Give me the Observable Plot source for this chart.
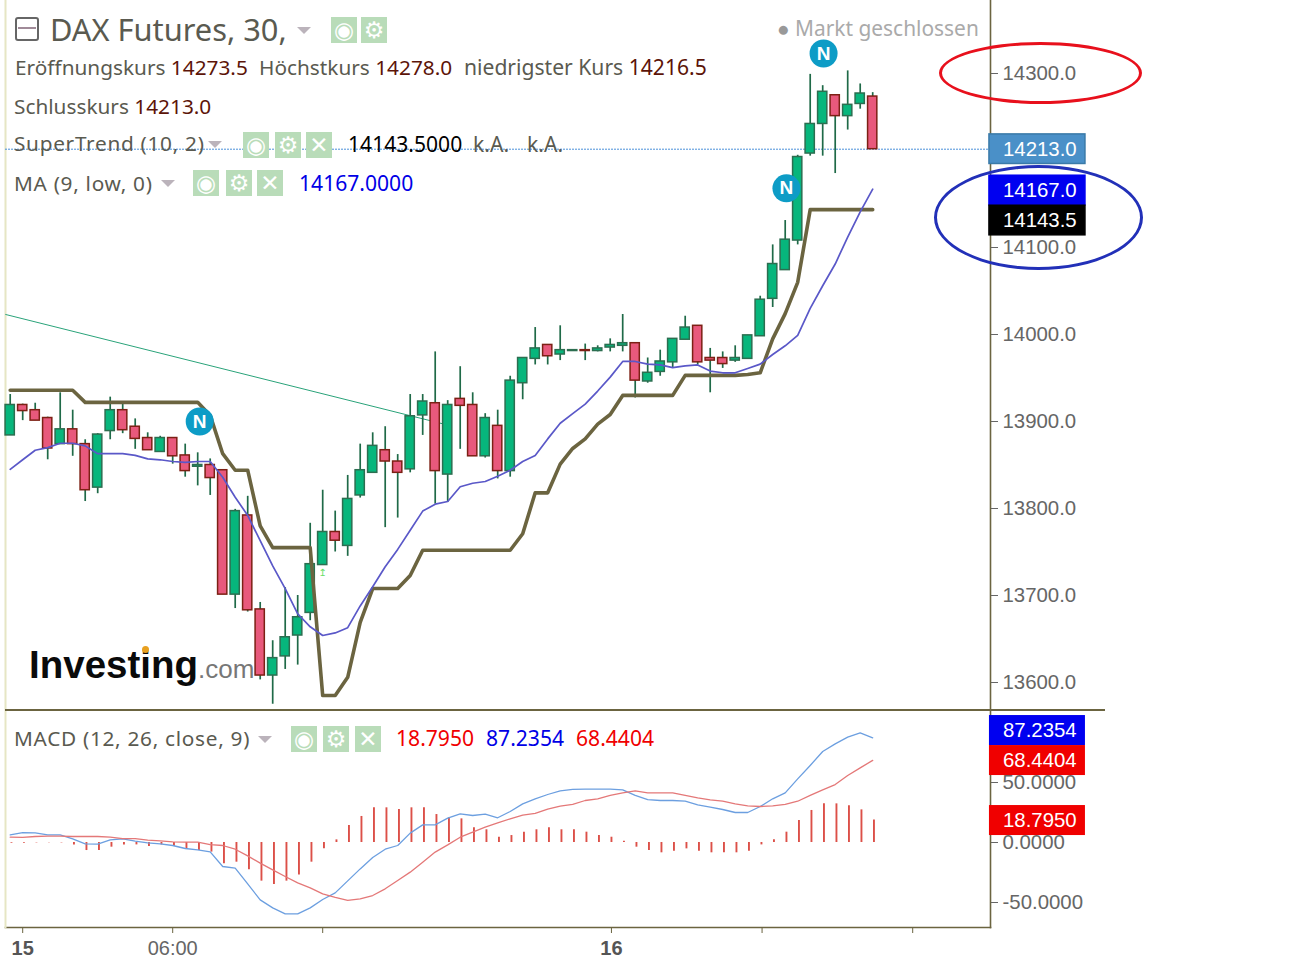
<!DOCTYPE html>
<html lang="de">
<head>
<meta charset="utf-8">
<title>DAX Futures, 30</title>
<script src="https://cdn.jsdelivr.net/npm/d3@7"></script>
<script src="https://cdn.jsdelivr.net/npm/@observablehq/plot@0.6"></script>
<style>
html,body{margin:0;padding:0;background:#fff;overflow:hidden}
#page{position:relative;width:1315px;height:961px;font-family:"Noto Sans",sans-serif}
#charts svg{display:block}
.t{position:absolute;white-space:nowrap;color:#5a5a50;font-size:20.8px;line-height:26px}
.ls{letter-spacing:.7px}
.v{color:#5c1408}
.n{font-size:21.1px}
.ic{position:absolute;width:26px;height:26px;background:#b9dcb9;color:#fff;text-align:center;line-height:26px;font-size:23px;font-family:"DejaVu Sans";overflow:hidden}
.tri{position:absolute;width:0;height:0;border-left:7px solid transparent;border-right:7px solid transparent;border-top:7px solid #bbb3bb}
.ring{position:absolute;box-sizing:border-box;border-radius:50%;background:transparent}
#sep{position:absolute;left:5px;top:709px;width:1100px;height:2px;background:#6b6440}
#logo{position:absolute;left:29px;top:640px;white-space:nowrap;font-family:"Liberation Sans",Arial,sans-serif;color:#0a0a0a;font-weight:bold;font-size:38.5px;letter-spacing:0;line-height:50px}
#logo span{font-weight:normal;color:#777;font-size:26px;letter-spacing:0}
</style>
</head>
<body>
<div id="page">
  <div id="charts"></div>
  <div id="sep"></div>

  <div style="position:absolute;left:15px;top:17px;width:20px;height:20px;border:2px solid #666;border-radius:3px"></div>
  <div style="position:absolute;left:18px;top:27px;width:18px;height:2px;background:#a08a98"></div>
  <div class="t" style="left:50px;top:10px;font-size:30.8px;line-height:38px">DAX Futures, 30,</div>
  <div class="tri" style="left:297px;top:27px"></div>
  <div class="ic" style="left:331px;top:17px">◉</div>
  <div class="ic" style="left:361px;top:17px">⚙</div>
  <div class="t" style="left:777px;top:15px;color:#aaa;font-size:20.9px"><span style="color:#999">●</span> Markt geschlossen</div>

  <div class="t" style="left:15px;top:54px">Eröffnungskurs <span class="v">14273.5</span></div>
  <div class="t" style="left:259px;top:54px">Höchstkurs <span class="v">14278.0</span></div>
  <div class="t n" style="left:464px;top:54px">niedrigster Kurs <span class="v">14216.5</span></div>
  <div class="t" style="left:14px;top:93px">Schlusskurs <span class="v">14213.0</span></div>

  <div class="t ls" style="left:14px;top:130px">SuperTrend (10, 2)</div>
  <div class="tri" style="left:208px;top:141px"></div>
  <div class="ic" style="left:243px;top:132px">◉</div>
  <div class="ic" style="left:275px;top:132px">⚙</div>
  <div class="ic" style="left:306px;top:132px">✕</div>
  <div class="t n" style="left:348px;top:131px;color:#000">14143.5000</div>
  <div class="t n" style="left:473px;top:131px">k.A.</div>
  <div class="t n" style="left:527px;top:131px">k.A.</div>

  <div class="t ls" style="left:14px;top:170px">MA (9, low, 0)</div>
  <div class="tri" style="left:161px;top:180px"></div>
  <div class="ic" style="left:193px;top:170px">◉</div>
  <div class="ic" style="left:226px;top:170px">⚙</div>
  <div class="ic" style="left:257px;top:170px">✕</div>
  <div class="t n" style="left:299px;top:170px;color:#0000e6">14167.0000</div>

  <div class="t ls" style="left:14px;top:725px">MACD (12, 26, close, 9)</div>
  <div class="tri" style="left:258px;top:736px"></div>
  <div class="ic" style="left:291px;top:726px">◉</div>
  <div class="ic" style="left:323px;top:726px">⚙</div>
  <div class="ic" style="left:355px;top:726px">✕</div>
  <div class="t n" style="left:396px;top:725px;color:#f00000">18.7950</div>
  <div class="t n" style="left:486px;top:725px;color:#0000e6">87.2354</div>
  <div class="t n" style="left:576px;top:725px;color:#f00000">68.4404</div>

  <div id="logo">Investing<span>.com</span></div>
  <div style="position:absolute;left:142px;top:646px;width:7px;height:7px;border-radius:50%;background:#e8a020"></div>

  <div class="ring" style="left:939px;top:42px;width:203px;height:62px;border:3px solid #e8101c"></div>
  <div class="ring" style="left:934px;top:165px;width:209px;height:105px;border:3px solid #2230b8"></div>
</div>

<script>
const opens = [13884,13919,13913,13904,13874,13891,13874,13824,13889,13913,13894,13881,13865,13881,13861,13848,13850,13844,13701,13792,13684,13608,13630,13654,13680,13735,13773,13757,13815,13841,13867,13854,13845,13907,13921,13839,13926,13919,13860,13895,13843,13944,13972,13988,13977,13981,13982,13981,13985,13987,13990,13946,13957,13968,13994,14010,13973,13973,13970,13972,13998,14041,14074,14108,14208,14242,14275,14251,14265,14273.5];
const closes = [13919,13912,13901,13869,13891,13874,13821,13885,13913,13890,13880,13867,13881,13860,13843,13850,13835,13701,13797,13683,13608,13628,13652,13675,13736,13773,13763,13811,13844,13872,13854,13841,13906,13923,13843,13919,13918,13860,13904,13843,13947,13973,13984,13975,13982,13982,13981,13984,13988,13990,13947,13956,13969,13995,14008,13968,13970,13966,13973,13999,14040,14081,14109,14204,14242,14279,14251,14264,14277,14213];
const highs = [13931,13920,13921,13905,13933,13913,13879,13886,13928,13921,13903,13887,13883,13881,13874,13864,13857,13844,13799,13814,13692,13648,13709,13700,13783,13821,13797,13838,13874,13887,13894,13862,13931,13931,13980,13924,13963,13933,13909,13913,13952,13973,14008,13988,14010,13982,13989,13987,13995,14023,13990,13973,13982,13995,14021,14010,13984,13980,13987,13999,14044,14103,14131,14206,14299,14286,14275,14303,14288,14278];
const lows = [13884,13901,13901,13856,13874,13860,13808,13817,13879,13886,13868,13867,13865,13851,13836,13826,13815,13701,13685,13681,13603,13575,13615,13620,13671,13735,13750,13745,13812,13841,13778,13789,13841,13884,13805,13807,13868,13860,13858,13834,13836,13925,13965,13965,13970,13981,13970,13980,13980,13980,13927,13944,13952,13962,13994,13965,13933,13961,13968,13972,13998,14031,14074,14103,14205,14205,14185,14235,14259,14213];
const superTrend = [13936,13936,13936,13936,13936,13936,13922,13922,13922,13922,13922,13922,13922,13922,13922,13922,13907,13863,13844,13844,13780,13755,13755,13755,13755,13585,13585,13606,13669,13708,13708,13708,13723,13752,13752,13752,13752,13752,13752,13752,13752,13771,13818,13818,13851,13869,13880,13897,13908,13930,13930,13930,13930,13930,13953,13953,13953,13953,13953,13954,13956,13995,14024,14060,14143.5,14143.5,14143.5,14143.5,14143.5,14143.5];
const movingAverage = [13845,13856,13867,13870,13875,13875,13872,13863,13863,13863,13861,13857,13856,13854,13853,13854,13854,13836,13813,13792,13763,13734,13708,13679,13664,13654,13657,13663,13688,13710,13733,13753,13775,13797,13805,13808,13825,13829,13831,13837,13844,13854,13861,13880,13898,13909,13920,13935,13951,13969,13969,13966,13965,13962,13964,13965,13958,13956,13956,13961,13966,13977,13987,13999,14030,14056,14081,14112,14141,14167];
const macdLine = [6.4,8.3,8.0,6.4,6.4,3.0,-1.1,-1.4,2.2,3.0,1.1,-0.3,-1.1,-2.5,-5.0,-6.1,-7.8,-20,-21.4,-34.5,-47.8,-54.5,-59.5,-59.5,-54.5,-47.5,-42,-32,-22,-12.5,-5.6,-2.5,7.8,14.7,14.7,20.3,23.9,22.5,23.6,20.6,25.8,32.2,36.4,40,43,44.2,44.4,44.4,44.4,43.9,39.2,35.8,35,35,34.4,31.4,29.4,27.5,25,25,30,36.4,41.4,53,64.2,75.8,82.2,87.8,91.4,87.2354];
const signalLine = [4.4,4.2,5,5.3,5.3,5,5,5,4.4,3.3,3.3,1.9,1.4,0.6,0.3,0.3,-1.7,-2.5,-5.6,-11.1,-17.2,-22.8,-28.3,-33.6,-37.8,-42.8,-45.8,-48.3,-47,-44.2,-38.6,-31.7,-24.7,-16.4,-8,-2,4.4,8.6,12.8,16.4,19.7,22.8,24.2,27.8,30.3,31.7,35,36.4,39.2,41.4,43,41.4,41.4,41.4,39.2,37.2,35.6,34.4,32.2,30.6,30,30.6,31.7,34.4,39.2,43.9,48.3,55.8,62.2,68.4404];
const histogram = [-0.6,-0.6,-0.3,-0.3,-0.3,-2,-6.7,-6.7,-3.9,-2,-2,-3.3,-2,-3.3,-5.6,-6.7,-8,-17.8,-16.4,-22.8,-32.2,-35,-32.2,-27,-16.4,-5.3,2.2,14.2,21.7,28.9,28.9,27.5,28.9,28.9,23.3,20.6,19.7,12.2,10.6,4.4,5.8,8.6,10.6,12.2,10.6,10.6,8.6,5.8,4.4,1.1,-3.9,-6.7,-8.6,-7.2,-5.3,-7.2,-8.6,-8.6,-8.6,-7.2,-2,2.2,8.6,18.3,26.7,32.2,32.2,30.6,27.2,18.795];

const priceTicks = [13600,13700,13800,13900,14000,14100,14300];
const macdTicks = [-50,0,50];
const trendBars = [-0.36,34.7];
const trendPrices = [14023,13897];
const lastClose = 14213;
const newsBars = [15.16,62.1,65.07];
const newsPrices = [13900,14168,14323];
const signalBars = [25];
const signalPrices = [13726];
const priceTagPositions = [14213,14165.5,14131];
const priceTagLabels = ["14213.0","14167.0","14143.5"];
const priceTagColors = ["#4a90c8","#0000f0","#000000"];
const priceTagEdges = ["#3a7aa8","#0000f0","#000000"];
const macdTagPositions = [93.3,68.3,18.3];
const macdTagLabels = ["87.2354","68.4404","18.7950"];
const macdTagColors = ["#0000f0","#f00000","#f00000"];
const timeTickBars = [1,13,25,48.1,60.15,72.2];
const dayBars = [1,48.1];
const dayLabels = ["15","16"];
const hourBars = [13];
const hourLabels = ["06:00"];
const tagBarStart = 78.34, tagBarEnd = 86.02, tagTextBar = 79.42;
const halfBody = 0.37;

const bars = d3.range(opens.length);
const xScale = {domain:[0,69], range:[9.7,872.2], axis:null};
const labelOf = (values, labels) => v => labels[values.indexOf(v)];
const axisFont = {fontFamily:'"Liberation Sans",Arial,sans-serif'};

const pricePane = Plot.plot({
  width:1315, height:710, marginTop:0, marginBottom:0, marginLeft:5, marginRight:325,
  style:{background:"transparent", ...axisFont},
  x:xScale,
  y:{domain:[13600,14300], range:[682,73], axis:null},
  marks:[
    Plot.frame({anchor:"right", stroke:"#6b6440", strokeWidth:1.6}),
    Plot.frame({anchor:"left", stroke:"#e6e6c4", strokeWidth:2}),
    Plot.axisY(priceTicks, {anchor:"right", tickSize:7, tickPadding:5, fontSize:20.4, color:"#666", tickFormat:d=>d.toFixed(1), label:null}),
    Plot.ruleY([lastClose], {stroke:"#4a90d9", strokeWidth:1, strokeDasharray:"2 1"}),
    Plot.line(trendBars, {x:d=>d, y:(d,i)=>trendPrices[i], stroke:"#2aa37a", strokeWidth:1}),
    Plot.ruleX(bars, {x:i=>i, y1:i=>lows[i], y2:i=>highs[i], stroke:"#1f6a48", strokeWidth:1.7}),
    Plot.rect(bars, {
      x1:i=>i-halfBody, x2:i=>i+halfBody, y1:i=>opens[i], y2:i=>closes[i],
      fill:i=>closes[i]>=opens[i]?"#07b67c":"#e8597c",
      stroke:i=>closes[i]>=opens[i]?"#2c6e50":"#7c2014", strokeWidth:1.5
    }),
    Plot.line(bars, {x:i=>i, y:i=>superTrend[i], stroke:"#6b6440", strokeWidth:3.6}),
    Plot.line(bars, {x:i=>i, y:i=>movingAverage[i], stroke:"#5a58c8", strokeWidth:1.7}),
    Plot.text(signalBars, {x:d=>d, y:(d,i)=>signalPrices[i], text:()=>"↥", fill:"#66dd66", fontSize:10, fontFamily:"DejaVu Sans"}),
    Plot.dot(newsBars, {x:d=>d, y:(d,i)=>newsPrices[i], r:14, fill:"#0d9cc6"}),
    Plot.text(newsBars, {x:d=>d, y:(d,i)=>newsPrices[i], text:()=>"N", fill:"#fff", fontSize:19, fontWeight:"bold"}),
    Plot.rect(priceTagPositions, {x1:()=>tagBarStart, x2:()=>tagBarEnd, y1:d=>d-17, y2:d=>d+17, fill:(d,i)=>priceTagColors[i], stroke:(d,i)=>priceTagEdges[i], strokeWidth:1.5}),
    Plot.text(priceTagPositions, {x:()=>tagTextBar, y:d=>d, text:(d,i)=>priceTagLabels[i], textAnchor:"start", fill:"#fff", fontSize:20.4})
  ]
});

const macdPane = Plot.plot({
  width:1315, height:251, marginTop:0, marginBottom:34, marginLeft:5, marginRight:325,
  style:{background:"transparent", ...axisFont},
  x:xScale,
  y:{domain:[-50,50], range:[192,72], axis:null},
  marks:[
    Plot.frame({anchor:"right", stroke:"#6b6440", strokeWidth:1.6}),
    Plot.frame({anchor:"bottom", stroke:"#6b6440", strokeWidth:1.6}),
    Plot.frame({anchor:"left", stroke:"#e6e6c4", strokeWidth:2}),
    Plot.axisY(macdTicks, {anchor:"right", tickSize:7, tickPadding:5, fontSize:20.4, color:"#666", tickFormat:d=>d.toFixed(4), label:null}),
    Plot.axisX(timeTickBars, {anchor:"bottom", tickSize:6, color:"#6b6440", tickFormat:()=>"", label:null}),
    Plot.axisX(dayBars, {anchor:"bottom", tickSize:0, tickPadding:13, fontSize:20, fontWeight:"bold", color:"#555", tickFormat:labelOf(dayBars,dayLabels), label:null}),
    Plot.axisX(hourBars, {anchor:"bottom", tickSize:0, tickPadding:13, fontSize:20, color:"#666", tickFormat:labelOf(hourBars,hourLabels), label:null}),
    Plot.ruleX(bars, {x:i=>i+0.1, y1:()=>0, y2:i=>histogram[i], stroke:"#dc5048", strokeWidth:1.9}),
    Plot.line(bars, {x:i=>i, y:i=>macdLine[i], stroke:"#6c9fe0", strokeWidth:1.3}),
    Plot.line(bars, {x:i=>i, y:i=>signalLine[i], stroke:"#e47878", strokeWidth:1.3}),
    Plot.rect(macdTagPositions, {x1:()=>tagBarStart, x2:()=>tagBarEnd, y1:d=>d-12.5, y2:d=>d+12.5, fill:(d,i)=>macdTagColors[i]}),
    Plot.text(macdTagPositions, {x:()=>tagTextBar, y:d=>d, text:(d,i)=>macdTagLabels[i], textAnchor:"start", fill:"#fff", fontSize:20.4})
  ]
});

document.getElementById("charts").append(pricePane, macdPane);
</script>
</body>
</html>
